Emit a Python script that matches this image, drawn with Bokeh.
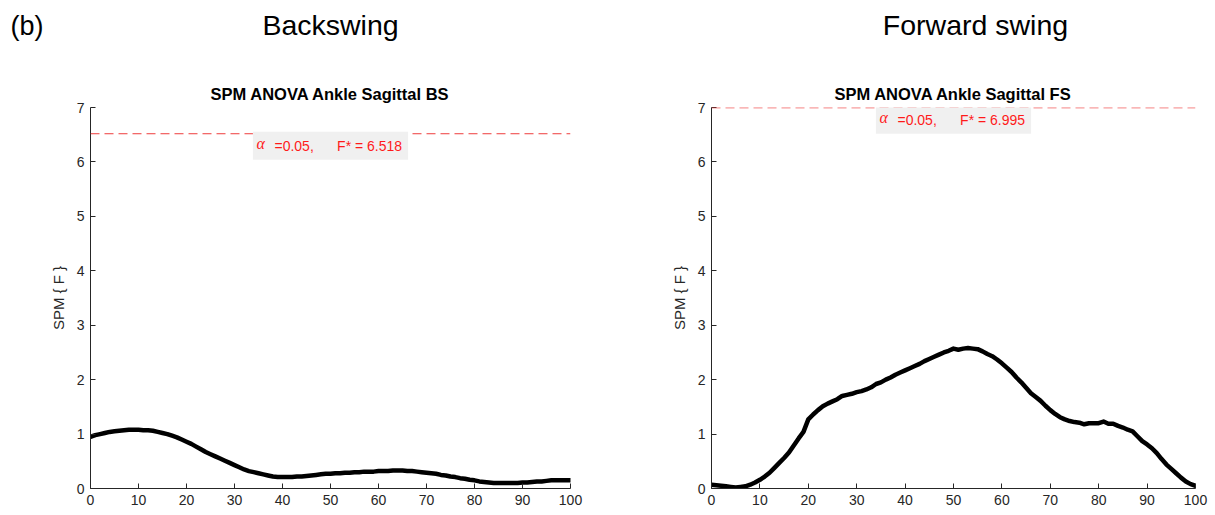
from bokeh.plotting import figure
from bokeh.layouts import row, column
from bokeh.models import Range1d, FixedTicker, Span, Label, ColumnDataSource
from bokeh.embed import file_html
from bokeh.resources import INLINE

# Time-normalised cycle (%)
pct = list(range(101))

# SPM{F} trajectories, ankle sagittal plane
f_backswing = [
    0.95, 0.98, 1.00, 1.02, 1.04, 1.05, 1.06, 1.07, 1.08, 1.08,
    1.08, 1.07, 1.07, 1.06, 1.04, 1.02, 1.00, 0.97, 0.94, 0.90,
    0.86, 0.82, 0.77, 0.72, 0.67, 0.63, 0.59, 0.55, 0.51, 0.47,
    0.43, 0.39, 0.35, 0.32, 0.30, 0.28, 0.26, 0.24, 0.22, 0.21,
    0.21, 0.21, 0.21, 0.22, 0.22, 0.23, 0.24, 0.25, 0.26, 0.27,
    0.27, 0.28, 0.28, 0.29, 0.29, 0.30, 0.30, 0.31, 0.31, 0.31,
    0.32, 0.32, 0.32, 0.33, 0.33, 0.33, 0.32, 0.32, 0.31, 0.30,
    0.29, 0.28, 0.27, 0.25, 0.24, 0.22, 0.21, 0.19, 0.18, 0.16,
    0.15, 0.13, 0.12, 0.11, 0.10, 0.10, 0.10, 0.10, 0.10, 0.10,
    0.11, 0.11, 0.12, 0.13, 0.13, 0.14, 0.15, 0.15, 0.15, 0.15,
    0.15,
]
f_forward = [
    0.07, 0.06, 0.05, 0.04, 0.03, 0.02, 0.03, 0.04, 0.07, 0.11,
    0.16, 0.22, 0.29, 0.38, 0.47, 0.56, 0.66, 0.79, 0.92, 1.04,
    1.27, 1.36, 1.44, 1.51, 1.56, 1.60, 1.64, 1.70, 1.72, 1.74,
    1.77, 1.79, 1.82, 1.86, 1.92, 1.95, 2.00, 2.04, 2.09, 2.13,
    2.17, 2.21, 2.25, 2.29, 2.34, 2.38, 2.42, 2.46, 2.50, 2.53,
    2.57, 2.55, 2.57, 2.58, 2.57, 2.56, 2.52, 2.47, 2.43, 2.37,
    2.30, 2.22, 2.14, 2.04, 1.95, 1.85, 1.75, 1.68, 1.61, 1.52,
    1.44, 1.37, 1.31, 1.27, 1.24, 1.22, 1.21, 1.18, 1.20, 1.20,
    1.20, 1.23, 1.19, 1.19, 1.15, 1.12, 1.08, 1.05, 0.96, 0.87,
    0.81, 0.74, 0.65, 0.54, 0.44, 0.36, 0.28, 0.20, 0.13, 0.08,
    0.05,
]

alpha_level = 0.05
f_crit_bs = 6.518
f_crit_fs = 6.995

panel_titles = ["SPM ANOVA Ankle Sagittal BS", "SPM ANOVA Ankle Sagittal FS"]
phase_titles = ["Backswing", "Forward swing"]
figure_tag = "(b)"
y_label = "SPM { F }"
x_ticks = list(range(0, 101, 10))
y_ticks = list(range(0, 8))

FONT = "Liberation Sans"
AX = "#262626"
RED = "#ff1a1a"
NB = "\u00a0"

TOTAL_W = 1215
HEADER_H = 78
FRAME_H = 381
BORDER_TOP = 29
BORDER_BOTTOM = 27

# (border_left, frame_width, border_right) of each panel
PANELS = [(90, 480, 37), (104, 484, 20)]
# horizontal centres of the phase headings, in page pixels
PHASE_X = [330, 975]


def spm_panel(values, f_crit, title, geom):
    border_left, frame_w, border_right = geom
    p = figure(
        width=border_left + frame_w + border_right,
        height=BORDER_TOP + FRAME_H + BORDER_BOTTOM,
        frame_width=frame_w, frame_height=FRAME_H,
        min_border_left=border_left, min_border_right=border_right,
        min_border_top=BORDER_TOP, min_border_bottom=BORDER_BOTTOM,
        x_range=Range1d(0, 100), y_range=Range1d(0, 7),
        output_backend="svg", toolbar_location=None,
        background_fill_color="white", border_fill_color="white",
        title=title,
    )
    p.title.align = "center"
    p.title.text_font = FONT
    p.title.text_font_size = "16.5px"
    p.title.text_font_style = "bold"
    p.title.text_color = "black"
    p.title.standoff = 9

    p.outline_line_color = None
    p.grid.visible = False

    for ax in (p.xaxis[0], p.yaxis[0]):
        ax.axis_line_color = AX
        ax.axis_line_width = 1
        ax.major_tick_line_color = AX
        ax.major_tick_in = 5
        ax.major_tick_out = 0
        ax.minor_tick_line_color = None
        ax.major_label_text_font = FONT
        ax.major_label_text_font_size = "14px"
        ax.major_label_text_color = AX
        ax.major_label_standoff = 6
    p.xaxis.ticker = FixedTicker(ticks=x_ticks)
    p.yaxis.ticker = FixedTicker(ticks=y_ticks)
    p.yaxis.axis_label = y_label
    p.yaxis.axis_label_text_font = FONT
    p.yaxis.axis_label_text_font_size = "15px"
    p.yaxis.axis_label_text_font_style = "normal"
    p.yaxis.axis_label_text_color = AX
    p.yaxis.axis_label_standoff = 7

    # critical threshold
    p.add_layout(Span(location=f_crit, dimension="width", line_color="#ee3c3c",
                      line_width=1, line_dash="9 5"))

    src = ColumnDataSource(dict(x=pct, f=values))
    p.line("x", "f", source=src, line_color="black", line_width=4.5,
           line_join="round", line_cap="round")

    crit_text = NB * 4 + "=%.2f," % alpha_level + NB * 6 + "F* = %.3f" % f_crit
    p.add_layout(Label(x=50, y=f_crit, text=crit_text, text_align="center",
                       text_baseline="top", y_offset=2,
                       text_font=FONT, text_font_size="14px", text_color=RED,
                       background_fill_color="#f0f0f0", background_fill_alpha=1.0,
                       padding=6))
    p.add_layout(Label(x=50, y=f_crit, text="α", text_align="left",
                       text_baseline="top", x_offset=-74, y_offset=-1,
                       text_font="Liberation Serif", text_font_style="italic",
                       text_font_size="16px", text_color=RED))
    return p


# heading strip above the two panels (page-pixel coordinates)
header = figure(width=TOTAL_W, height=HEADER_H, x_range=Range1d(0, TOTAL_W),
                y_range=Range1d(HEADER_H, 0), x_axis_type=None, y_axis_type=None,
                min_border=0, output_backend="svg", toolbar_location=None,
                background_fill_color="white", border_fill_color="white",
                title=None)
header.outline_line_color = None
header.grid.visible = False

for cx, phase in zip(PHASE_X, phase_titles):
    header.add_layout(Label(x=cx, y=24, text=phase,
                            text_align="center", text_baseline="alphabetic",
                            text_font=FONT, text_font_size="28.5px", text_color="black"))
header.add_layout(Label(x=10, y=25, text=figure_tag, text_align="left",
                        text_baseline="alphabetic", text_font=FONT,
                        text_font_size="27px", text_color="black"))

left = spm_panel(f_backswing, f_crit_bs, panel_titles[0], PANELS[0])
right = spm_panel(f_forward, f_crit_fs, panel_titles[1], PANELS[1])

layout = column(header, row(left, right, spacing=0), spacing=0)
open("out.html", "w").write(file_html(layout, INLINE))
